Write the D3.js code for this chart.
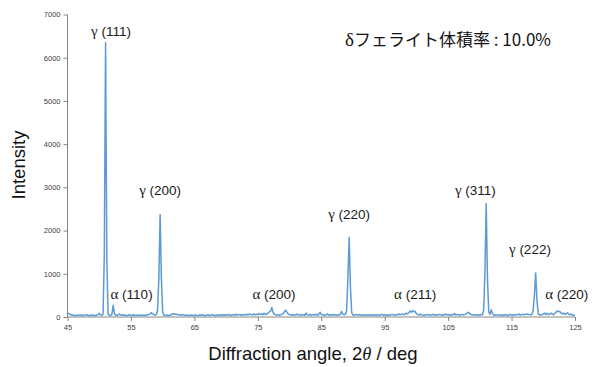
<!DOCTYPE html>
<html>
<head>
<meta charset="utf-8">
<script src="https://cdn.jsdelivr.net/npm/d3@7"></script>
<style>
  html, body { margin: 0; padding: 0; background: #fff; }
  svg { display: block; }
</style>
</head>
<body>
<svg id="chart" width="596" height="367"></svg>
<script>
// ---- Data ----
const angleStart = 45;   // deg
const angleStep = 0.2;   // deg (measurement step)
const intensity = [
  95,80,60,45,50,35,40,30,45,40,35,50,30,40,45,55,35,30,45,40,
  35,45,30,40,55,85,50,40,60,1400,6350,1300,60,40,35,60,270,80,40,35,
  50,70,45,40,55,35,40,30,45,50,35,40,55,30,45,35,40,50,30,45,
  40,35,50,45,60,70,100,75,55,45,60,150,900,2370,900,120,40,30,45,35,
  40,35,60,75,65,70,55,60,45,50,40,55,45,35,50,40,30,45,40,35,
  40,50,35,30,45,40,55,35,40,30,45,50,35,40,55,45,30,40,50,35,
  45,40,55,35,50,45,40,60,45,35,50,55,40,65,45,50,60,40,55,45,
  50,65,45,70,55,60,45,75,50,65,55,80,60,70,55,85,60,65,90,120,
  130,220,110,60,50,45,55,40,50,60,80,120,160,110,70,55,45,60,40,55,
  45,70,50,40,60,45,55,40,90,50,45,60,40,55,50,45,65,40,55,110,
  60,45,50,40,55,70,45,50,40,60,45,55,40,50,45,60,130,70,50,60,
  150,900,1840,700,100,45,40,60,50,45,55,40,50,45,35,50,45,40,55,35,
  45,40,55,35,50,45,40,55,60,40,50,45,35,50,40,55,60,45,50,40,
  55,70,50,60,75,55,65,90,70,100,140,110,150,120,130,80,60,45,70,50,
  40,35,50,60,45,55,40,50,65,45,40,55,45,60,50,40,55,45,70,50,
  45,60,40,55,50,80,45,60,55,40,50,60,45,55,70,90,110,85,55,50,
  45,55,40,50,45,40,60,50,150,1000,2620,900,120,60,170,80,45,40,55,45,
  40,50,35,45,40,55,45,35,50,60,45,40,55,45,60,50,70,45,55,65,
  50,60,75,55,60,50,55,150,500,1020,400,80,45,55,50,70,90,60,85,55,
  60,90,70,55,80,110,140,120,130,95,70,90,60,80,95,70,50,65,45,40,
  35
];
const xTicks = [45, 55, 65, 75, 85, 95, 105, 115, 125];
const yTicks = [0, 1000, 2000, 3000, 4000, 5000, 6000, 7000];
const peakPhases = ["γ", "α", "γ", "α", "γ", "α", "γ", "γ", "α"];
const peakIndices = ["(111)", "(110)", "(200)", "(200)", "(220)", "(211)", "(311)", "(222)", "(220)"];
const peakLabelAngles = [51.85, 55.1, 59.6, 77.55, 89.4, 99.8, 109.3, 117.9, 123.7];
const peakLabelValues = [6500, 417, 2824, 417, 2268, 417, 2824, 1458, 417];
const annotationSymbol = "δ";
const annotationText = "フェライト体積率 : 10.0%";
const xTitle = ["Diffraction angle, ", "2", "θ", " / deg"];
const yTitle = "Intensity";

// ---- Chart ----
const data = intensity.map((v, i) => ({ a: angleStart + i * angleStep, v }));
const svg = d3.select("#chart");
const x = d3.scaleLinear().domain([45, 125]).range([67.5, 575]);
const y = d3.scaleLinear().domain([0, 7000]).range([317, 14.5]);

const axisColor = "#868686";
const labelColor = "#404040";
const sans = "'Liberation Sans', Arial, sans-serif";
const serif = "'Liberation Serif', 'Times New Roman', serif";

// Y axis
const yAxis = svg.append("g").attr("transform", "translate(67.5,0)")
  .call(d3.axisLeft(y).tickValues(yTicks).tickSize(4).tickPadding(3).tickFormat(d3.format("d")));
yAxis.select(".domain").attr("stroke", axisColor).attr("d", `M0,${y(0)}V${y(7000)}`);
yAxis.selectAll(".tick line").attr("stroke", axisColor);
yAxis.selectAll(".tick text").attr("fill", labelColor)
  .style("font-family", sans).style("font-size", "7.5px");

// X axis
const xAxis = svg.append("g").attr("transform", `translate(0,${y(0)})`)
  .call(d3.axisBottom(x).tickValues(xTicks).tickSize(4).tickPadding(4).tickFormat(d3.format("d")));
xAxis.select(".domain").attr("stroke", axisColor).attr("d", `M${x(45)},0H${x(125)}`);
xAxis.selectAll(".tick line").attr("stroke", axisColor);
xAxis.selectAll(".tick text").attr("fill", labelColor)
  .style("font-family", sans).style("font-size", "7.5px");

// Line
const line = d3.line().x(d => x(d.a)).y(d => y(d.v));
svg.append("path").datum(data)
  .attr("fill", "none").attr("stroke", "#5B9BD5").attr("stroke-width", 1.5)
  .attr("stroke-linejoin", "round").attr("d", line);

// Peak labels
const pl = svg.append("g").selectAll("text").data(peakIndices).join("text")
  .attr("x", (d, i) => x(peakLabelAngles[i]))
  .attr("y", (d, i) => y(peakLabelValues[i]))
  .attr("text-anchor", "middle")
  .attr("fill", "#1a1a1a")
  .style("font-family", sans).style("font-size", "13.5px");
pl.append("tspan").style("font-family", serif).style("font-size", "15px").text((d, i) => peakPhases[i]);
pl.append("tspan").text(d => " " + d);

// Annotation
const an = svg.append("text").attr("x", 345).attr("y", 46)
  .attr("fill", "#111")
  .style("font-family", "'Noto Sans CJK JP', sans-serif").style("font-size", "17px");
an.append("tspan").style("font-family", serif).style("font-size", "19px").text(annotationSymbol);
an.append("tspan").text(annotationText);

// Axis titles
const xt = svg.append("text").attr("x", 313).attr("y", 360).attr("text-anchor", "middle")
  .attr("fill", "#111")
  .style("font-family", sans).style("font-size", "18.5px");
xt.append("tspan").text(xTitle[0]);
xt.append("tspan").text(xTitle[1]);
xt.append("tspan").style("font-style", "italic").style("font-family", serif).text(xTitle[2]);
xt.append("tspan").text(xTitle[3]);

svg.append("text").attr("transform", "translate(25,165) rotate(-90)")
  .attr("text-anchor", "middle").attr("fill", "#111")
  .style("font-family", sans).style("font-size", "18.5px")
  .text(yTitle);
</script>
</body>
</html>
